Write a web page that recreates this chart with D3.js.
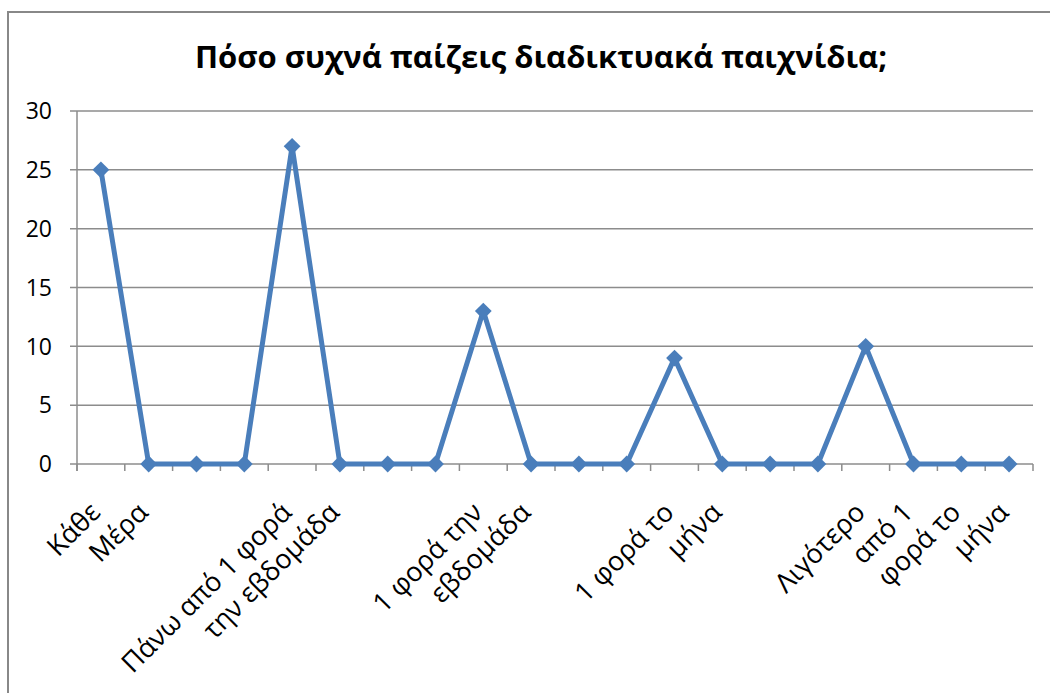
<!DOCTYPE html>
<html><head><meta charset="utf-8">
<script src="https://cdn.jsdelivr.net/npm/d3@7"></script>
<style>body{margin:0;background:#fff}</style>
</head><body>
<svg id="c" width="1050" height="693"></svg>
<script>
const categories = ["Κάθε","Μέρα","","","Πάνω από 1 φορά","την εβδομάδα","","","1 φορά την","εβδομάδα","","","1 φορά το","μήνα","","","Λιγότερο","από 1","φορά το","μήνα"];
const values = [25,0,0,0,27,0,0,0,13,0,0,0,9,0,0,0,10,0,0,0];
const yTicks = [0,5,10,15,20,25,30];
const title = "Πόσο συχνά παίζεις διαδικτυακά παιχνίδια;";

const svg = d3.select("#c");
const font = "'Open Sans', sans-serif";
svg.append("rect").attr("x",8).attr("y",12).attr("width",1100).attr("height",800)
  .attr("fill","#fff").attr("stroke","#888").attr("stroke-width",2);

const L=77, R=1033, T=111, B=464;
const idx = d3.range(categories.length);
const x = d3.scaleBand().domain(idx).range([L,R]);
const y = d3.scaleLinear().domain([0,30]).range([B,T]);

svg.append("g").selectAll("line").data(yTicks).join("line")
  .attr("x1",70).attr("x2",R).attr("y1",d=>y(d)).attr("y2",d=>y(d))
  .attr("stroke","#8c8c8c").attr("stroke-width",1.5);

svg.append("line").attr("x1",L).attr("x2",L).attr("y1",T).attr("y2",B+7).attr("stroke","#8c8c8c").attr("stroke-width",1.5);
svg.append("g").selectAll("text").data(yTicks).join("text")
  .attr("x",52).attr("y",d=>y(d)).attr("dy","0.36em").attr("text-anchor","end")
  .attr("font-family",font).attr("font-size",23).attr("fill","#000").text(d=>d);

const tickPos = idx.map(i=>x(i)).concat([R]);
svg.append("g").selectAll("line").data(tickPos).join("line")
  .attr("x1",d=>d).attr("x2",d=>d).attr("y1",B).attr("y2",B+7)
  .attr("stroke","#8c8c8c").attr("stroke-width",1.5);

svg.append("g").selectAll("text").data(idx).join("text")
  .attr("transform",i=>`translate(${x(i)+x.bandwidth()/2+1},${B+50}) rotate(-45)`)
  .attr("text-anchor","end")
  .attr("font-family",font).attr("font-size",27).attr("fill","#000")
  .text(i=>categories[i]);

const cx = i=>x(i)+x.bandwidth()/2;
svg.append("path").datum(idx)
  .attr("d",d3.line().x(cx).y(i=>y(values[i])))
  .attr("fill","none").attr("stroke","#4a7ebb").attr("stroke-width",5).attr("stroke-linejoin","round");
svg.append("g").selectAll("path").data(idx).join("path")
  .attr("transform",i=>`translate(${cx(i)},${y(values[i])})`)
  .attr("d",d3.symbol(d3.symbolDiamond2,180)())
  .attr("fill","#4a7ebb");

svg.append("text").attr("x",541).attr("y",68).attr("text-anchor","middle")
  .attr("font-family",font).attr("font-weight","bold").attr("font-size",31).attr("fill","#000").text(title);
</script>
</body></html>
